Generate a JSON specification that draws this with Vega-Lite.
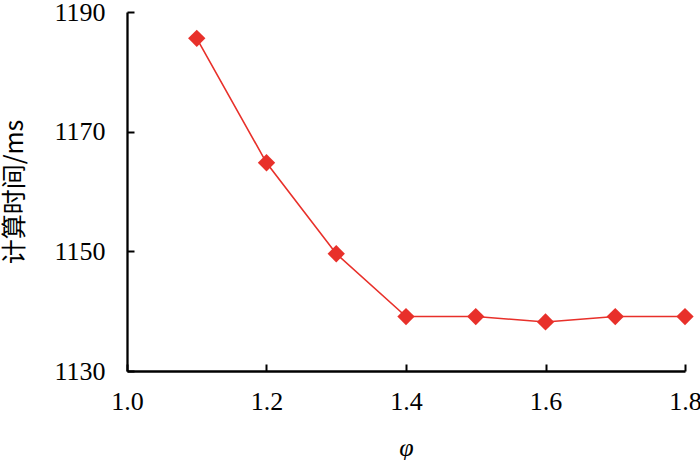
{
  "$schema": "https://vega.github.io/schema/vega-lite/v6.json",
  "autosize": "none",
  "width": 558,
  "height": 359,
  "padding": {"left": 127, "top": 12, "right": 15, "bottom": 89},
  "background": "white",
  "config": {"view": {"stroke": null}},
  "data": {
    "values": [
      {"phi": 1.1, "t": 1185.6},
      {"phi": 1.2, "t": 1164.8},
      {"phi": 1.3, "t": 1149.6},
      {"phi": 1.4, "t": 1139.1},
      {"phi": 1.5, "t": 1139.1},
      {"phi": 1.6, "t": 1138.2},
      {"phi": 1.7, "t": 1139.1},
      {"phi": 1.8, "t": 1139.1}
    ]
  },
  "resolve": {"axis": {"x": "independent", "y": "independent"}},
  "layer": [
    {
      "mark": {"type": "line", "color": "#e8302a", "strokeWidth": 1.6},
      "encoding": {
        "x": {
          "field": "phi",
          "type": "quantitative",
          "scale": {"domain": [1.0, 1.8], "nice": false, "zero": false},
          "axis": {
            "values": [1.0, 1.2, 1.4, 1.6, 1.8],
            "format": ".1f",
            "grid": false,
            "domainColor": "#000000",
            "domainWidth": 2.3,
            "ticks": false,
            "labelFont": "Liberation Serif",
            "labelFontSize": 26,
            "labelColor": "#000000",
            "labelPadding": 17,
            "labelFlush": false,
            "labelOverlap": false,
            "title": "φ",
            "titleFont": "Liberation Serif",
            "titleFontStyle": "italic",
            "titleFontWeight": "normal",
            "titleColor": "#000000",
            "titleFontSize": 26,
            "titlePadding": 20
          }
        },
        "y": {
          "field": "t",
          "type": "quantitative",
          "scale": {"domain": [1130, 1190], "nice": false, "zero": false},
          "axis": {
            "values": [1130, 1150, 1170, 1190],
            "format": "d",
            "grid": false,
            "domainColor": "#000000",
            "domainWidth": 2.3,
            "ticks": false,
            "labelFont": "Liberation Serif",
            "labelFontSize": 26,
            "labelColor": "#000000",
            "labelPadding": 22,
            "labelFlush": false,
            "labelOverlap": false,
            "title": "计算时间/ms",
            "titleFont": "Noto Sans CJK SC",
            "titleFontWeight": "normal",
            "titleColor": "#000000",
            "titleFontSize": 25,
            "titlePadding": 26
          }
        }
      }
    },
    {
      "mark": {"type": "point", "shape": "diamond", "filled": true, "size": 300, "color": "#e8302a", "opacity": 1},
      "encoding": {
        "x": {
          "field": "phi",
          "type": "quantitative",
          "axis": {
            "orient": "top",
            "offset": -359,
            "values": [1.0, 1.2, 1.4, 1.6, 1.8],
            "grid": false,
            "domain": false,
            "labels": false,
            "ticks": true,
            "tickColor": "#000000",
            "tickWidth": 2,
            "tickSize": 7,
            "title": null
          }
        },
        "y": {
          "field": "t",
          "type": "quantitative",
          "axis": {
            "orient": "right",
            "offset": -558,
            "values": [1130, 1150, 1170, 1190],
            "grid": false,
            "domain": false,
            "labels": false,
            "ticks": true,
            "tickColor": "#000000",
            "tickWidth": 2,
            "tickSize": 7,
            "title": null
          }
        }
      }
    }
  ]
}
